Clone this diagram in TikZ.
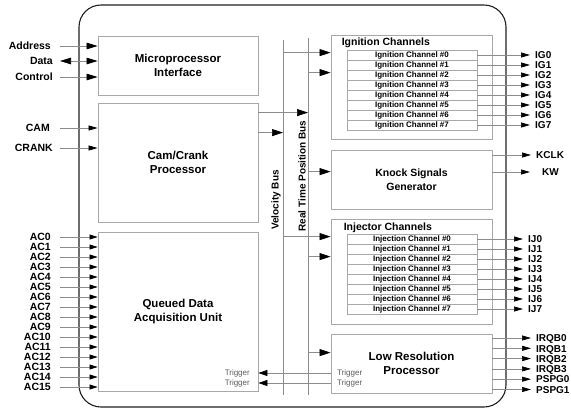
\documentclass[tikz,border=0pt]{standalone}
\usepackage{fontspec}
\setmainfont{Liberation Sans}
\usetikzlibrary{arrows.meta,positioning}
\definecolor{framec}{HTML}{1E1E1E}
\definecolor{boxc}{HTML}{A8A8A8}
\definecolor{wire}{HTML}{8C8C8C}
\definecolor{trigc}{HTML}{5A5A5A}
\tikzset{
  outline/.style={framec,line width=1.1pt,rounded corners=22pt},
  blk/.style={draw=boxc,line width=0.8pt,inner sep=0pt,align=center,font=\fontsize{11.5}{14}\selectfont\bfseries},
  chan/.style={draw=boxc,line width=0.7pt,minimum width=130pt,minimum height=10pt,inner sep=0pt,font=\fontsize{8}{9}\selectfont\bfseries},
  ttl/.style={inner sep=0pt,font=\fontsize{10.5}{12}\selectfont\bfseries},
  sig/.style={inner sep=0pt,text height=7.5pt,text depth=0pt,font=\fontsize{10.5}{12}\selectfont\bfseries},
  osig/.style={sig,font=\fontsize{10}{12}\selectfont\bfseries},
  trg/.style={inner sep=0pt,text=trigc,font=\fontsize{8}{9}\selectfont},
  buslbl/.style={inner sep=1pt,font=\fontsize{10}{12}\selectfont\bfseries},
  bus/.style={wire,line width=0.8pt},
  wbig/.style={wire,line width=0.7pt,-{Triangle[length=11pt,width=6.5pt,color=black]}},
  wdbl/.style={wire,line width=0.7pt,{Triangle[length=11pt,width=6.5pt,color=black]}-{Triangle[length=11pt,width=6.5pt,color=black]}},
  wsml/.style={wire,line width=0.7pt,-{Triangle[length=9pt,width=5pt,color=black]}},
  wac/.style={wire,line width=0.7pt,-{Triangle[length=8pt,width=5pt,color=black]}},
  wbus/.style={wire,line width=0.7pt,-{Triangle[length=11pt,width=7pt,color=black]}},
  wout/.style={wire,line width=0.7pt,shorten >=5pt,-{Triangle[length=9pt,width=5pt,color=black]}},
  wtrg/.style={wire,line width=0.7pt,-{Triangle[length=9pt,width=6pt,color=black]}},
}

\begin{document}
\begin{tikzpicture}[x=1pt,y=-1pt]
  \useasboundingbox (0,0) rectangle (571,413);
  % ---------- outer frame ----------
  \draw[outline] (79,5) rectangle (506,407);
  % ---------- left column blocks ----------
  \node[blk,minimum width=160pt,minimum height=59pt] (mpi) at (178,65.5) {Microprocessor\\Interface};
  \node[blk,minimum width=160pt,minimum height=119pt] (ccp) at (178,162.5) {Cam/Crank\\Processor};
  \node[blk,minimum width=160pt,minimum height=159pt] (qdau) at (178,311.5) {Queued Data\\Acquisition Unit};
  % ---------- right column blocks ----------
  \node[blk,minimum width=161pt,minimum height=104pt] (igc) at (411.5,87) {};
  \node[blk,minimum width=161pt,minimum height=59pt,font=\fontsize{10.5}{14}\selectfont\bfseries] (ksg) at (411.5,179.5) {Knock Signals\\Generator};
  \node[blk,minimum width=161pt,minimum height=105pt] (ijc) at (411.5,271.5) {};
  \node[blk,minimum width=161pt,minimum height=59pt] (lrp) at (411.5,363.5) {Low Resolution\\Processor};
  \node[ttl,anchor=north west] (igt) at ([xshift=11pt,yshift=-3pt]igc.north west) {Ignition Channels};
  \node[ttl,anchor=north west] (ijt) at ([xshift=13pt,yshift=-4pt]ijc.north west) {Injector Channels};
  % ---------- channel tables ----------
  \foreach \i in {0,...,7}{
    \node[chan] (ig\i) at (412,55+10*\i) {Ignition Channel \#\i};
    \node[chan] (ij\i) at (412,239+10*\i) {Injection Channel \#\i};
  }
  % ---------- buses ----------
  \coordinate (vbn) at (283,40);
  \coordinate (vbs) at (283,395);
  \coordinate (rpn) at (308,38);
  \coordinate (rps) at (308,395);
  \draw[bus] (vbn) -- (vbs);
  \draw[bus] (rpn) -- (rps);
  \node[buslbl,rotate=90,anchor=south] (vbl) at (282,200) {Velocity Bus};
  \node[buslbl,rotate=90,anchor=south] (rpl) at (307,176) {Real Time Position Bus};
  % bus taps
  \coordinate (igi1) at ([yshift=-18pt]igc.north west);
  \coordinate (igi2) at ([yshift=-38pt]igc.north west);
  \coordinate (cco1) at ([yshift=-10pt]ccp.north east);
  \coordinate (cco2) at ([yshift=-30pt]ccp.north east);
  \coordinate (ksi) at ([yshift=-22pt]ksg.north west);
  \coordinate (iji1) at ([yshift=-18pt]ijc.north west);
  \coordinate (iji2) at ([yshift=-38pt]ijc.north west);
  \coordinate (lri) at ([yshift=-19pt]lrp.north west);
  \draw[wbus] (igi1 -| vbn) -- (igi1);
  \draw[wbus] (igi2 -| rpn) -- (igi2);
  \draw[wbus] (cco1) -- (cco1 -| rpn);
  \draw[wbus] (cco2) -- (cco2 -| vbn);
  \draw[wbus] (ksi -| rpn) -- (ksi);
  \draw[wbus] (iji1 -| vbn) -- (iji1);
  \draw[wbus] (iji2 -| rpn) -- (iji2);
  \draw[wbus] (lri -| rpn) -- (lri);
  % ---------- triggers ----------
  \node[trg,anchor=east] (tq1) at (250,373) {Trigger};
  \node[trg,anchor=east] (tq2) at (250,383) {Trigger};
  \node[trg,anchor=west] (tl1) at (337,373) {Trigger};
  \node[trg,anchor=west] (tl2) at (337,383) {Trigger};
  \draw[wtrg] (tl1 -| lrp.west) -- (tq1 -| qdau.east);
  \draw[wtrg] (tl2 -| lrp.west) -- (tq2 -| qdau.east);
  % ---------- left inputs ----------
  \coordinate (lin) at (60,0);
  \node[sig,anchor=east] (addr) at (51,46) {Address};
  \node[sig,anchor=east] (data) at (53,61) {Data};
  \node[sig,anchor=east] (ctrl) at (53,77) {Control};
  \draw[wbig] (addr -| lin) -- (addr -| mpi.west);
  \draw[wdbl] (data -| lin) -- (data -| mpi.west);
  \draw[wbig] (ctrl -| lin) -- (ctrl -| mpi.west);
  \node[sig,anchor=east] (cam) at (50,128) {CAM};
  \node[sig,anchor=east] (crank) at (53,148) {CRANK};
  \draw[wsml] (cam -| lin) -- (cam -| ccp.west);
  \draw[wsml] (crank -| lin) -- (crank -| ccp.west);
  \foreach \i in {0,...,15}{
    \node[sig,anchor=east] (ac\i) at (51,237+10*\i) {AC\i};
    \draw[wac] (ac\i -| lin) -- (ac\i -| qdau.west);
  }
  % ---------- right outputs ----------
  \foreach \i in {0,...,7}{
    \node[osig,anchor=west] (igo\i) at (535,55+10*\i) {IG\i};
    \draw[wout] (ig\i.east) -- (igo\i.west);
    \node[osig,anchor=west] (ijo\i) at (528,239+10*\i) {IJ\i};
    \draw[wout] (ij\i.east) -- (ijo\i.west);
  }
  \node[osig,anchor=west] (kclk) at (536,155) {KCLK};
  \node[osig,anchor=west] (kw) at (542,172) {KW};
  \draw[wout] (kclk -| ksg.east) -- (kclk.west);
  \draw[wout,shorten >=12pt] (kw -| ksg.east) -- (kw.west);
  \foreach \s [count=\k from 0] in {IRQB0,IRQB1,IRQB2,IRQB3,PSPG0,PSPG1}{
    \node[osig,anchor=west] (lro\k) at (536,338+10.3*\k) {\s};
    \draw[wout] (lro\k -| lrp.east) -- (lro\k.west);
  }
\end{tikzpicture}
\end{document}
